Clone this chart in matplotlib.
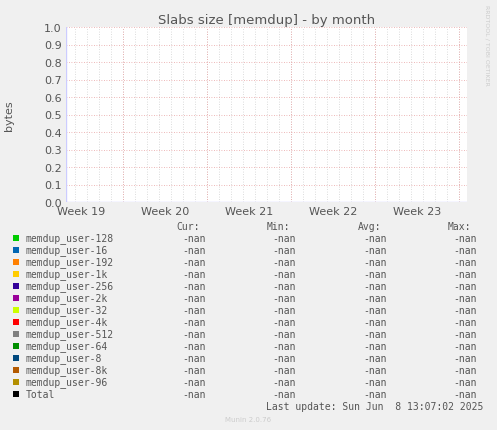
import numpy as np
import matplotlib.pyplot as plt
from matplotlib.patches import Rectangle

series = ["memdup_user-128", "memdup_user-16", "memdup_user-192", "memdup_user-1k",
          "memdup_user-256", "memdup_user-2k", "memdup_user-32", "memdup_user-4k",
          "memdup_user-512", "memdup_user-64", "memdup_user-8", "memdup_user-8k",
          "memdup_user-96", "Total"]
colors = ["#00cc00", "#0066b3", "#ff8000", "#ffcc00", "#330099", "#990099", "#ccff00",
          "#ff0000", "#808080", "#008f00", "#00487d", "#b35a00", "#b38f00", "#000000"]
weeks = ["Week 19", "Week 20", "Week 21", "Week 22", "Week 23"]
week_starts = [-2.25, 4.75, 11.75, 18.75, 25.75, 32.75]  # in days from left edge
yticks = [0.0, 0.1, 0.2, 0.3, 0.4, 0.5, 0.6, 0.7, 0.8, 0.9, 1.0]

W, H = 497, 431
fig = plt.figure(figsize=(W / 100, H / 100), dpi=100, facecolor="#f0f0f0")
ax = fig.add_axes([66 / W, 1 - 203 / H, (467 - 66) / W, (203 - 28) / H])
ax.set_facecolor("white")
ax.set_xlim(0, 401 / 12)
ax.set_ylim(0, 1)

for d in np.arange(-2.25, 34, 1.0):
    if d > 0:
        ax.axvline(d, color="#d0d0d0", lw=0.6, ls=(0, (1, 2)), zorder=1)
for d in week_starts[1:]:
    ax.axvline(d, color="#e8a0a0", lw=0.6, ls=(0, (1, 2)), zorder=2)
for y in yticks[1:]:
    ax.axhline(y, color="#e8a0a0", lw=0.6, ls=(0, (1, 2)), zorder=2)

ax.set_yticks(yticks)
ax.set_yticklabels([f"{v:.1f}" for v in yticks], fontsize=8, color="#555555")
ax.set_xticks([s + 3.5 for s in week_starts[:-1]])
ax.set_xticklabels(weeks, fontsize=8, color="#555555")
ax.tick_params(length=0, pad=3)
for s in ax.spines.values():
    s.set_visible(False)
ax.axhline(0, color="#ccccff", lw=1, zorder=3)
ax.axvline(0, color="#ccccff", lw=1, zorder=3)
ax.set_ylabel("bytes", fontsize=8, color="#555555", labelpad=22)
ax.set_title("Slabs size [memdup] - by month", fontsize=9.5, color="#555555", pad=3)

fig.text(487 / W, 1 - 5 / H, "RRDTOOL / TOBI OETIKER", rotation=270, fontsize=4.5,
         color="#cccccc", va="top", ha="center")

mono = "DejaVu Sans Mono"
fs = 7
hy = 227
for x, t in [(200, "Cur:"), (290, "Min:"), (381, "Avg:"), (471, "Max:")]:
    fig.text(x / W, 1 - hy / H, t, fontsize=fs, family=mono, color="#555555", ha="right", va="center")
for i, (name, c) in enumerate(zip(series, colors)):
    y = 239 + 12 * i
    fig.patches.append(Rectangle((13 / W, 1 - (y + 3) / H), 6 / W, 6 / H,
                                 transform=fig.transFigure, facecolor=c, edgecolor="none"))
    fig.text(26 / W, 1 - y / H, name, fontsize=fs, family=mono, color="#555555", va="center")
    for x in [206, 296, 387, 477]:
        fig.text(x / W, 1 - y / H, "-nan", fontsize=fs, family=mono, color="#555555",
                 ha="right", va="center")
fig.text(483 / W, 1 - 407 / H, "Last update: Sun Jun  8 13:07:02 2025", fontsize=fs,
         family=mono, color="#555555", ha="right", va="center")
fig.text(248 / W, 1 - 420 / H, "Munin 2.0.76", fontsize=5, color="#cccccc", ha="center", va="center")

fig.savefig("out.png", dpi=100, facecolor=fig.get_facecolor())
